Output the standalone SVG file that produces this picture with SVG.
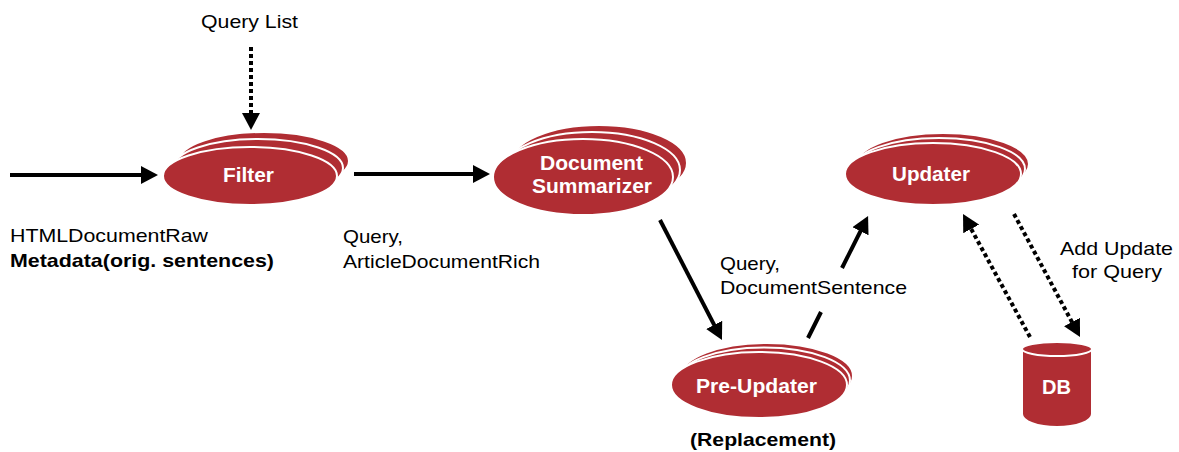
<svg xmlns="http://www.w3.org/2000/svg" width="1179" height="452" viewBox="0 0 1179 452">
  <style>
    .stack { fill: #B02D33; stroke: #ffffff; stroke-width: 2; }
    .body { fill: #B02D33; stroke: #ffffff; stroke-width: 2; }
    .nlabel { font-family: "Liberation Sans", Arial, sans-serif; font-weight: bold; font-size: 19.5px; fill: #ffffff; }
    .label { font-family: "Liberation Sans", Arial, sans-serif; font-size: 18.5px; fill: #000000; }
    .blabel { font-family: "Liberation Sans", Arial, sans-serif; font-weight: bold; font-size: 18.5px; fill: #000000; }
    .solid { fill: none; stroke: #000000; stroke-width: 4; marker-end: url(#head); }
    .plain { fill: none; stroke: #000000; stroke-width: 4; }
    .dotted { fill: none; stroke: #000000; stroke-width: 4; stroke-dasharray: 4 3; marker-end: url(#head); }
  </style>
  <defs>
    <marker id="head" markerUnits="userSpaceOnUse" markerWidth="18" markerHeight="18" refX="7" refY="9" orient="auto">
      <path d="M0,0 L17,9 L0,18 Z" fill="#000000"/>
    </marker>
  </defs>

  <rect width="1179" height="452" fill="#ffffff"/>

  <g id="connectors">
    <line class="solid" x1="10" y1="175" x2="148" y2="175"/>
    <line class="dotted" x1="251" y1="47" x2="251" y2="120"/>
    <line class="solid" x1="354" y1="174" x2="480" y2="174"/>
    <line class="solid" x1="660" y1="220" x2="717.4" y2="331.1"/>
    <line class="plain" x1="808" y1="338" x2="821" y2="312"/>
    <line class="solid" x1="842" y1="268" x2="863.6" y2="225"/>
    <line class="dotted" x1="1030" y1="337" x2="967.8" y2="222.8"/>
    <line class="dotted" x1="1014" y1="214" x2="1075.3" y2="328.2"/>
  </g>

  <g id="labels">
    <text class="label" x="201" y="28" textLength="97" lengthAdjust="spacingAndGlyphs">Query List</text>
    <text class="label" x="10" y="242" textLength="198" lengthAdjust="spacingAndGlyphs">HTMLDocumentRaw</text>
    <text class="blabel" x="10" y="267" textLength="264" lengthAdjust="spacingAndGlyphs">Metadata(orig. sentences)</text>
    <text class="label" x="343" y="243" textLength="60" lengthAdjust="spacingAndGlyphs">Query,</text>
    <text class="label" x="343" y="268" textLength="197" lengthAdjust="spacingAndGlyphs">ArticleDocumentRich</text>
    <text class="label" x="720" y="270" textLength="60" lengthAdjust="spacingAndGlyphs">Query,</text>
    <text class="label" x="720" y="294" textLength="187" lengthAdjust="spacingAndGlyphs">DocumentSentence</text>
    <text class="label" x="1060" y="255" textLength="113" lengthAdjust="spacingAndGlyphs">Add Update</text>
    <text class="label" x="1072" y="278" textLength="90" lengthAdjust="spacingAndGlyphs">for Query</text>
    <text class="blabel" x="690" y="446" textLength="146" lengthAdjust="spacingAndGlyphs">(Replacement)</text>
  </g>

  <!-- each process node: two offset back ellipses behind the front one -->
  <g id="node-filter">
    <ellipse class="stack" cx="264" cy="161" rx="85" ry="29"/>
    <ellipse class="stack" cx="258" cy="168" rx="85" ry="29"/>
    <ellipse class="body" cx="250" cy="176" rx="87" ry="29"/>
    <text class="nlabel" x="223" y="182" textLength="51" lengthAdjust="spacingAndGlyphs">Filter</text>
  </g>

  <g id="node-summarizer">
    <ellipse class="stack" cx="599" cy="163" rx="88" ry="38"/>
    <ellipse class="stack" cx="592" cy="170" rx="88" ry="38"/>
    <ellipse class="body" cx="583" cy="177" rx="90" ry="38"/>
    <text class="nlabel" x="540" y="170" textLength="103" lengthAdjust="spacingAndGlyphs">Document</text>
    <text class="nlabel" x="532" y="193" textLength="120" lengthAdjust="spacingAndGlyphs">Summarizer</text>
  </g>

  <g id="node-updater">
    <ellipse class="stack" cx="943" cy="164" rx="86" ry="31"/>
    <ellipse class="stack" cx="939" cy="169" rx="86" ry="31"/>
    <ellipse class="body" cx="933" cy="174" rx="88" ry="31"/>
    <text class="nlabel" x="892" y="181" textLength="78" lengthAdjust="spacingAndGlyphs">Updater</text>
  </g>

  <g id="node-preupdater">
    <ellipse class="stack" cx="767" cy="376" rx="86" ry="33"/>
    <ellipse class="stack" cx="764" cy="380.5" rx="86" ry="33"/>
    <ellipse class="body" cx="759" cy="385" rx="88" ry="33"/>
    <text class="nlabel" x="696" y="393" textLength="121" lengthAdjust="spacingAndGlyphs">Pre-Updater</text>
  </g>

  <g id="node-db">
    <path class="body" d="M1022,349 L1022,414 A35,13 0 0 0 1092,414 L1092,349 Z"/>
    <ellipse class="body" cx="1057" cy="349" rx="35" ry="7"/>
    <text class="nlabel" x="1042" y="394" textLength="29" lengthAdjust="spacingAndGlyphs">DB</text>
  </g>
</svg>
